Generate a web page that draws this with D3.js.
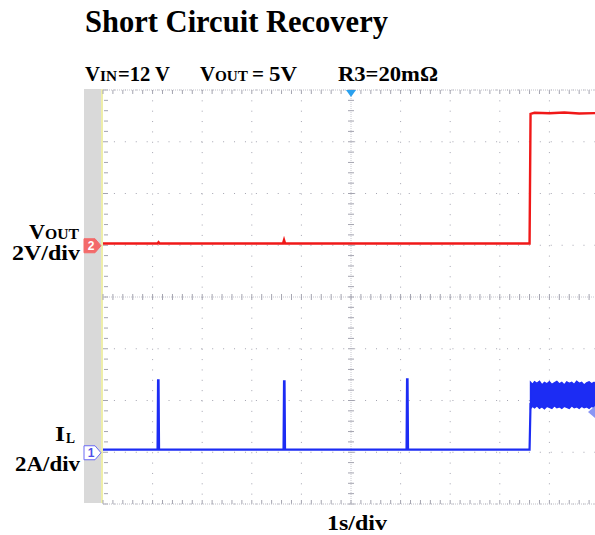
<!DOCTYPE html>
<html><head><meta charset="utf-8">
<script src="https://cdn.jsdelivr.net/npm/d3@7"></script>
<style>body{margin:0;background:#fff}svg{display:block}</style>
</head><body>
<script>
// ---- data ----
const timeTicks = [0,1,2,3,4,5,6,7,8,9,10];          // seconds (1 s/div)
const divTicks  = [-4,-3,-2,-1,0,1,2,3,4];             // vertical divisions
// VOUT (ch2, 2 V/div)
const voutTime = [0, 1.10, 1.12, 1.14, 3.63, 3.65, 3.67, 6.12, 6.14, 8.60, 8.62, 8.70, 9.0, 9.3, 9.6, 10.0];
const voutVal  = [0.07,0.07,0.12,0.07,0.07,0.20,0.07,0.07,0.07,0.07,5.08,5.12,5.10,5.13,5.09,5.11];
// IL (ch1, 2 A/div)
const ilTime = [0, 1.10, 1.11, 1.12, 1.13, 3.64, 3.65, 3.66, 3.67, 6.12, 6.13, 6.14, 6.15, 8.60, 8.62];
const ilVal  = [0.10,0.10,2.78,2.78,0.10,0.10,2.74,2.74,0.10,0.10,2.82,2.82,0.10,0.10,1.90];
// IL noise band after recovery
const bandTime = [8.62,8.66,8.70,8.75,8.80,8.85,8.90,8.95,9.00,9.05,9.10,9.15,9.20,9.25,9.30,9.35,9.40,9.45,9.50,9.55,9.60,9.65,9.70,9.75,9.80,9.85,9.90,9.95,10.0];
const bandHi   = [2.70,2.62,2.72,2.66,2.74,2.60,2.70,2.64,2.72,2.62,2.68,2.74,2.64,2.70,2.60,2.72,2.66,2.70,2.62,2.74,2.66,2.70,2.60,2.68,2.72,2.64,2.70,2.62,2.68];
const bandLo   = [1.70,1.78,1.72,1.80,1.70,1.76,1.68,1.78,1.74,1.70,1.80,1.72,1.76,1.70,1.78,1.74,1.70,1.80,1.72,1.76,1.70,1.78,1.72,1.76,1.70,1.78,1.74,1.72,1.76];

const W = 595, H = 535;
const svg = d3.select("body").append("svg").attr("width", W).attr("height", H)
  .style("font-family", "'Liberation Serif','Times New Roman',serif");

const x = d3.scaleLinear().domain([0,10]).range([103, 599]);
const yDiv = d3.scaleLinear().domain([-4,4]).range([504, 90]);
const ch2Off = 1, ch1Off = -3;
const yV = v => yDiv(ch2Off + v/2);
const yI = a => yDiv(ch1Off + a/2);

// side strip
svg.append("rect").attr("x",84).attr("y",89).attr("width",17).attr("height",414).attr("fill","#d9d9d9");
svg.append("line").attr("x1",102).attr("x2",102).attr("y1",89).attr("y2",503).attr("stroke","#eeeeaa").attr("stroke-width",2);

const g = svg.append("g");
const gridCol = "#a4a4b0";
// dotted grid lines
timeTicks.forEach(t => {
  if (t===0 || t===5) return;
  g.append("line").attr("x1",x(t)).attr("x2",x(t)).attr("y1",yDiv(4)).attr("y2",yDiv(-4))
   .attr("stroke",gridCol).attr("stroke-width",1).attr("stroke-dasharray","1,9.35");
});
divTicks.forEach(d => {
  if (d===0) return;
  g.append("line").attr("x1",x(0)).attr("x2",x(10)).attr("y1",yDiv(d)).attr("y2",yDiv(d))
   .attr("stroke",gridCol).attr("stroke-width",1).attr("stroke-dasharray","1,9.92");
});
// center axes with minor ticks
g.append("line").attr("x1",x(0)).attr("x2",x(10)).attr("y1",yDiv(0)).attr("y2",yDiv(0))
  .attr("stroke","#c8c8d0").attr("stroke-dasharray","1,1");
g.append("line").attr("x1",x(5)).attr("x2",x(5)).attr("y1",yDiv(4)).attr("y2",yDiv(-4))
  .attr("stroke","#c8c8d0").attr("stroke-dasharray","1,1");
const minorT = x.ticks(50);
const minorD = yDiv.ticks(40);
minorT.forEach(t => {
  [yDiv(0), yDiv(4)+2, yDiv(-4)-2].forEach((yy,i) => {
    g.append("line").attr("x1",x(t)).attr("x2",x(t)).attr("y1",yy-(i===0?3:2)).attr("y2",yy+(i===0?3:2))
     .attr("stroke", gridCol).attr("stroke-width",1);
  });
});
minorD.forEach(d => {
  [x(5), x(0)+3].forEach((xx,i) => {
    g.append("line").attr("x1",xx-(i===0?3:2)).attr("x2",xx+(i===0?3:2)).attr("y1",yDiv(d)).attr("y2",yDiv(d))
     .attr("stroke", gridCol).attr("stroke-width",1);
  });
});
// frame lines top/bottom (dotted)
[yDiv(4), yDiv(-4)].forEach(yy => {
  g.append("line").attr("x1",x(0)).attr("x2",W).attr("y1",yy).attr("y2",yy)
   .attr("stroke","#c0c0c8").attr("stroke-dasharray","1,1");
});

// traces
const line = d3.line();
svg.append("path")
  .attr("d", line(voutTime.map((t,i)=>[x(t), yV(voutVal[i])])))
  .attr("fill","none").attr("stroke","#f01818").attr("stroke-width",2.4);
svg.append("path")
  .attr("d", line(ilTime.map((t,i)=>[x(t), yI(ilVal[i])])))
  .attr("fill","none").attr("stroke","#1c2cf4").attr("stroke-width",2.2);
const area = d3.area().x((d,i)=>x(bandTime[i])).y0((d,i)=>yI(bandLo[i])).y1((d,i)=>yI(bandHi[i]));
svg.append("path").attr("d", area(bandTime)).attr("fill","#1c2cf4").attr("stroke","#1c2cf4").attr("stroke-width",1.5);

// channel markers
function marker(yc, fill, stroke, txtCol, label){
  const pts = [[84,yc-7],[95,yc-7],[101,yc],[95,yc+7],[84,yc+7]];
  svg.append("polygon").attr("points", pts.map(p=>p.join(",")).join(" "))
    .attr("fill",fill).attr("stroke",stroke).attr("stroke-width",1);
  svg.append("text").attr("x",91).attr("y",yc+4.5).attr("text-anchor","middle")
    .attr("font-family","Arial,'Liberation Sans',sans-serif").attr("font-size",12).attr("font-weight","bold")
    .attr("fill",txtCol).text(label);
}
marker(yV(0)+0.5, "#f36a6a", "#f36a6a", "#ffffff", "2");
marker(yI(0)+0.5, "#ffffff", "#6a6af4", "#5050e8", "1");

// trigger markers
svg.append("polygon").attr("points", `${x(5)-5},90 ${x(5)+5},90 ${x(5)},97`).attr("fill","#2aa0ee");
svg.append("polygon").attr("points", `595,406 588,412 595,418`).attr("fill","#8a96f4");

// texts (each piece stretched to the width measured on the picture)
function seg(xp, yp, size, len, str){
  const t = svg.append("text").attr("x",xp).attr("y",yp).attr("font-size",size).attr("font-weight","bold").text(str);
  if (len) t.attr("textLength",len).attr("lengthAdjust","spacingAndGlyphs");
  return t;
}
seg(85, 32, 30.5, 303, "Short Circuit Recovery");
seg(85, 81, 21, 15, "V");  seg(100, 81, 15, 17, "IN");  seg(118, 81, 21, 52, "=12 V");
seg(200, 81, 21, 15, "V"); seg(215, 81, 15, 33, "OUT"); seg(252, 81, 21, 12, "="); seg(269, 81, 21, 28, "5V");
seg(338, 81, 21, 100, "R3=20mΩ");
seg(29, 239, 20, 16, "V"); seg(45, 239, 14, 34, "OUT");
seg(12, 260, 21, 68, "2V/div");
seg(55, 441, 21, 10, "I"); seg(66, 443, 15, 9, "L");
seg(15, 471, 21, 65, "2A/div");
seg(327, 530, 21, 60, "1s/div");
</script>
</body></html>
